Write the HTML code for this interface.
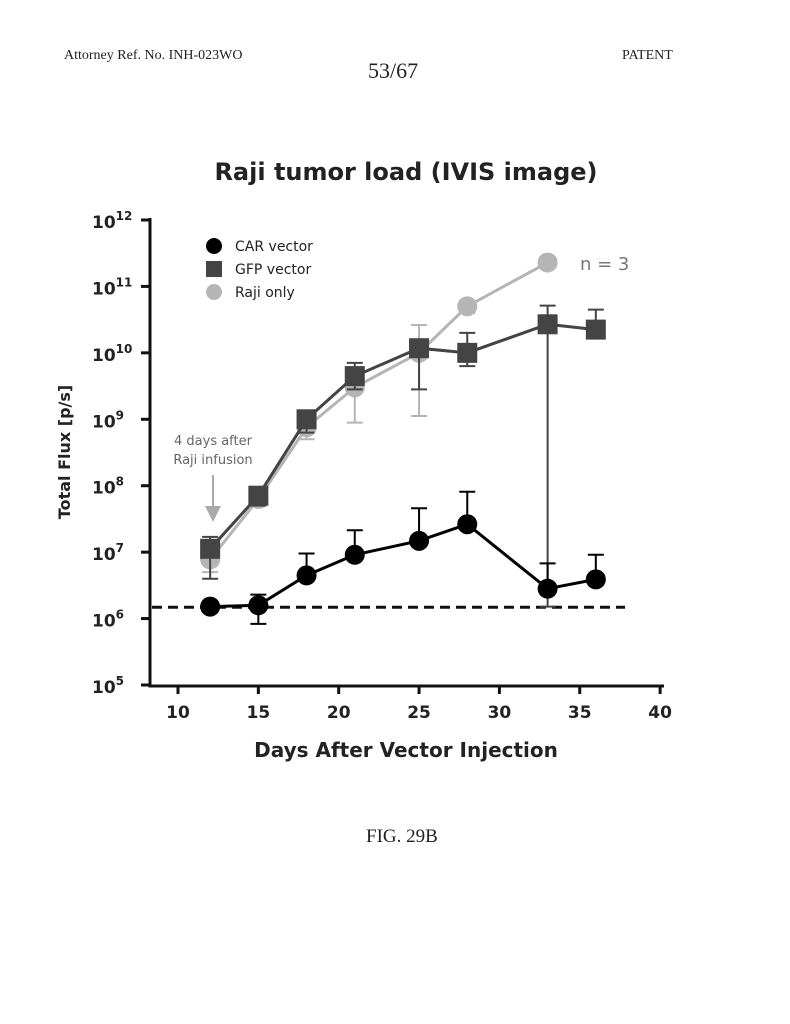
<!DOCTYPE html>
<html><head><meta charset="utf-8"><style>
body{margin:0;background:#fff;width:790px;height:1024px;overflow:hidden;position:relative;font-family:"Liberation Serif",serif}
.hdr{position:absolute;font-size:14px;color:#222}
</style></head><body>
<div class="hdr" style="left:64px;top:48px">Attorney Ref. No. INH-023WO</div>
<div class="hdr" style="left:368px;top:58px;font-size:22px">53/67</div>
<div class="hdr" style="left:622px;top:48px">PATENT</div>
<div class="hdr" style="left:366px;top:826px;font-size:19px">FIG. 29B</div>
<svg id="chart" width="790" height="1024" style="position:absolute;left:0;top:0" font-family="'DejaVu Sans',sans-serif"></svg>
<script>
const days=[12,15,18,21,25,28,33,36];
const carLog=[6.18,6.2,6.65,6.96,7.17,7.42,6.45,6.59];
const carUp=[6.18,6.36,6.98,7.33,7.66,7.91,6.83,6.96];
const carLo=[6.18,5.92,6.65,6.96,7.17,7.42,6.45,6.59];
const gfpDays=[12,15,18,21,25,28,33,36];
const gfpLog=[7.05,7.85,9.0,9.65,10.07,10.0,10.43,10.35];
const gfpUp=[7.23,7.95,9.1,9.85,10.2,10.3,10.71,10.65];
const gfpLo=[6.6,7.7,8.8,9.45,9.45,9.8,6.18,10.35];
const rajiDays=[12,15,18,21,25,28,33];
const rajiLog=[6.89,7.8,8.88,9.48,10.0,10.7,11.36];
const rajiUp=[6.89,7.8,8.95,9.48,10.42,10.7,11.36];
const rajiLo=[6.7,7.7,8.7,8.95,9.05,10.6,11.36];
const baselineLog=6.17;
const xTicks=[10,15,20,25,30,35,40];
const yTicks=[5,6,7,8,9,10,11,12];
const svg=document.getElementById('chart');const NS='http://www.w3.org/2000/svg';
const X=d=>178+(d-10)*16.07;const Y=l=>685-(l-5)*66.43;
function el(t,a){const e=document.createElementNS(NS,t);for(const k in a)e.setAttribute(k,a[k]);svg.appendChild(e);return e;}
let t=el('text',{x:406,y:180,'text-anchor':'middle','font-size':24,'font-weight':'bold',fill:'#222'});t.textContent='Raji tumor load (IVIS image)';

let a=el('path',{d:'M150 218 V686 H664',stroke:'#111','stroke-width':3,fill:'none'});

xTicks.forEach(v=>{el('line',{x1:X(v),x2:X(v),y1:686,y2:694,stroke:'#111','stroke-width':3});
 const tx=el('text',{x:X(v),y:718,'text-anchor':'middle','font-size':17,'font-weight':'bold',fill:'#222'});tx.textContent=v;
 });
yTicks.forEach(v=>{el('line',{x1:141,x2:150,y1:Y(v),y2:Y(v),stroke:'#111','stroke-width':3});
 const tx=el('text',{x:92,y:Y(v)+8,'font-size':17,'font-weight':'bold',fill:'#222'});tx.innerHTML='10<tspan dy="-8" font-size="12">'+v+'</tspan>';
 });
t=el('text',{x:406,y:757,'text-anchor':'middle','font-size':20,'font-weight':'bold',fill:'#222'});t.textContent='Days After Vector Injection';

t=el('text',{x:0,y:0,transform:'translate(70 452) rotate(-90)','text-anchor':'middle','font-size':16,'font-weight':'bold',fill:'#222'});t.textContent='Total  Flux [p/s]';

let b=el('line',{x1:152,x2:625,y1:Y(baselineLog),y2:Y(baselineLog),stroke:'#111','stroke-width':3,'stroke-dasharray':'10 6'});

function series(ds,vals,up,lo,color,shape,name,lw){
 const p=el('polyline',{points:ds.map((d,i)=>X(d)+','+Y(vals[i])).join(' '),fill:'none',stroke:color,'stroke-width':lw});
 
 ds.forEach((d,i)=>{const x=X(d);
  if(up[i]>vals[i]){el('line',{x1:x,x2:x,y1:Y(vals[i]),y2:Y(up[i]),stroke:color,'stroke-width':2});el('line',{x1:x-8,x2:x+8,y1:Y(up[i]),y2:Y(up[i]),stroke:color,'stroke-width':2});}
  if(lo[i]<vals[i]){el('line',{x1:x,x2:x,y1:Y(vals[i]),y2:Y(lo[i]),stroke:color,'stroke-width':2});el('line',{x1:x-8,x2:x+8,y1:Y(lo[i]),y2:Y(lo[i]),stroke:color,'stroke-width':2});}
  let m;if(shape==='sq')m=el('rect',{x:x-10,y:Y(vals[i])-10,width:20,height:20,fill:color});
  else m=el('circle',{cx:x,cy:Y(vals[i]),r:10,fill:color});
  });
}
series(rajiDays,rajiLog,rajiUp,rajiLo,'#b5b5b5','c','raji-only',3);
series(gfpDays,gfpLog,gfpUp,gfpLo,'#444','sq','gfp-vector',3);
series(days,carLog,carUp,carLo,'#000','c','car-vector',3);
const leg=[['CAR vector','#000','c'],['GFP vector','#444','sq'],['Raji only','#b5b5b5','c']];
leg.forEach((l,i)=>{const y=246+i*23;let m;
 if(l[2]==='sq')m=el('rect',{x:206,y:y-8,width:16,height:16,fill:l[1]});else m=el('circle',{cx:214,cy:y,r:8,fill:l[1]});
 
 const tx=el('text',{x:235,y:y+5,'font-size':14,fill:'#222'});tx.textContent=l[0];
 });
t=el('text',{x:580,y:270,'font-size':18,fill:'#777'});t.textContent='n = 3';

t=el('text',{x:213,y:445,'text-anchor':'middle','font-size':13,fill:'#666'});t.innerHTML='<tspan x="213">4 days after</tspan><tspan x="213" dy="19">Raji infusion</tspan>';

el('line',{x1:213,x2:213,y1:475,y2:508,stroke:'#aaa','stroke-width':2});
t=el('path',{d:'M205 506 L221 506 L213 522 Z',fill:'#aaa'});

</script>
</body></html>
